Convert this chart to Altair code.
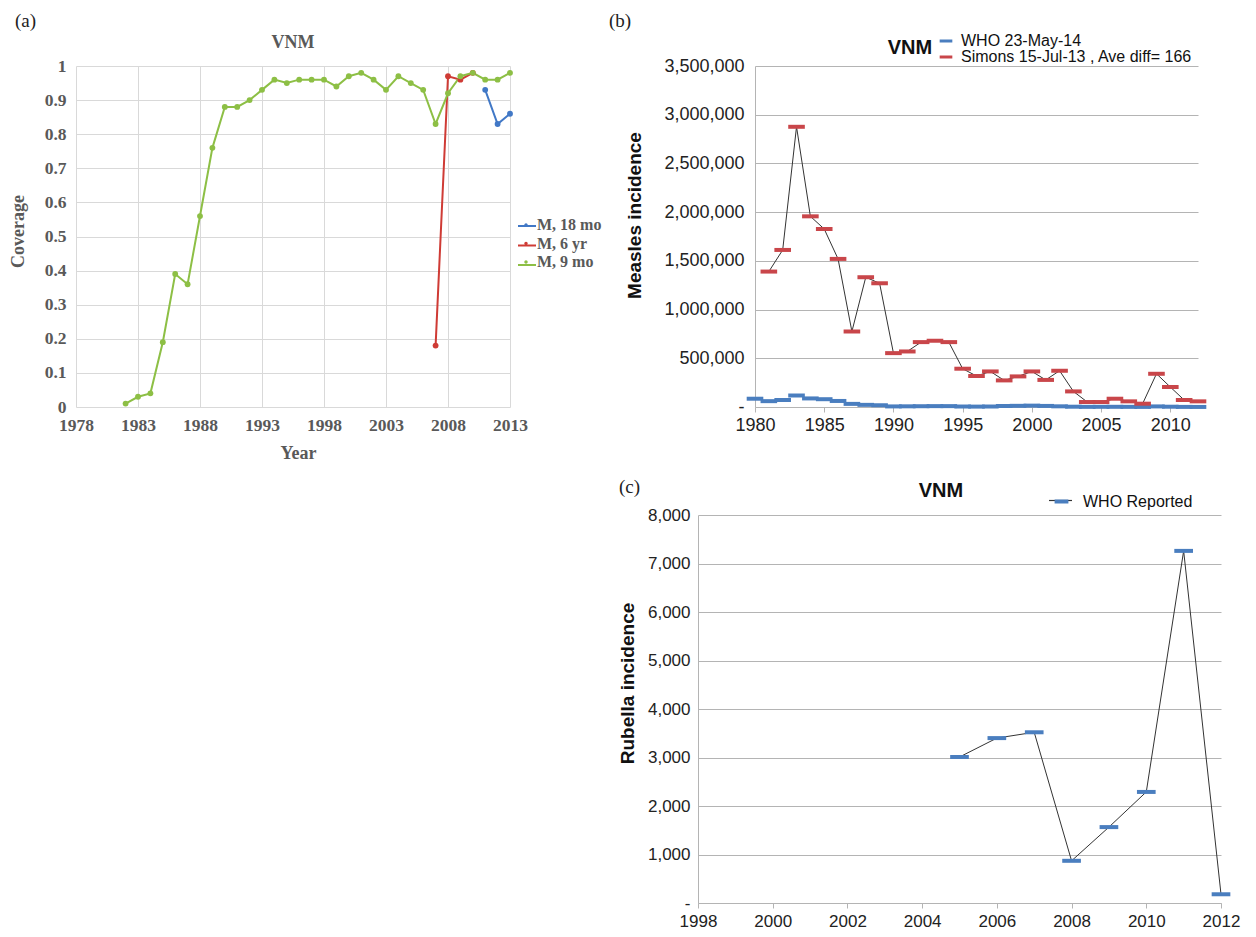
import altair as alt
import pandas as pd

SERIF = "Liberation Serif"
SANS = "Liberation Sans"

# ---------------- (a) measles vaccination coverage ----------------
cov_series = ["M, 18 mo", "M, 6 yr", "M, 9 mo"]
cov_colors = ["#4178C6", "#CF3B35", "#8DBF45"]

cov_years_18mo = [2011, 2012, 2013]
cov_18mo = [0.93, 0.83, 0.86]

cov_years_6yr = [2007, 2008, 2009, 2010]
cov_6yr = [0.18, 0.97, 0.96, 0.98]

cov_years_9mo = list(range(1982, 2014))
cov_9mo = [0.01, 0.03, 0.04, 0.19, 0.39, 0.36, 0.56, 0.76, 0.88, 0.88,
           0.90, 0.93, 0.96, 0.95, 0.96, 0.96, 0.96, 0.94, 0.97, 0.98,
           0.96, 0.93, 0.97, 0.95, 0.93, 0.83, 0.92, 0.97, 0.98, 0.96,
           0.96, 0.98]

cov_year_ticks = [1978, 1983, 1988, 1993, 1998, 2003, 2008, 2013]
cov_ticks = [0, 0.1, 0.2, 0.3, 0.4, 0.5, 0.6, 0.7, 0.8, 0.9, 1]

# ---------------- (b) measles incidence ----------------
measles_series = ["WHO 23-May-14", "Simons 15-Jul-13 , Ave diff= 166"]
measles_colors = ["#4A7EBF", "#C9464A"]

who_years = list(range(1980, 2013))
who_measles = [85000, 60000, 72000, 118000, 88000, 80000, 62000, 32000, 22000, 18000,
               6000, 7000, 8000, 9000, 9000, 5000, 4000, 5000, 10000, 12000,
               14000, 11000, 7000, 3000, 1500, 2000, 2000, 1500, 1000, 6000,
               3000, 1000, 600]

simons_years = list(range(1981, 2013))
simons_measles = [1390000, 1612000, 2876000, 1957000, 1827000, 1520000, 775000, 1332000,
                  1270000, 553000, 570000, 666000, 680000, 666000, 393000, 318000,
                  365000, 273000, 314000, 365000, 278000, 372000, 160000, 51000,
                  51000, 85000, 58000, 34000, 341000, 205000, 72000, 58000]

measles_year_ticks = [1980, 1985, 1990, 1995, 2000, 2005, 2010]
measles_ticks = [0, 500000, 1000000, 1500000, 2000000, 2500000, 3000000, 3500000]

# ---------------- (c) rubella incidence ----------------
rubella_series = ["WHO Reported"]
rubella_color = ["#4A7EBF"]
rubella_years = [2005, 2006, 2007, 2008, 2009, 2010, 2011, 2012]
rubella_cases = [3010, 3400, 3520, 870, 1565, 2290, 7260, 180]

rubella_year_ticks = [1998, 2000, 2002, 2004, 2006, 2008, 2010, 2012]
rubella_ticks = [0, 1000, 2000, 3000, 4000, 5000, 6000, 7000, 8000]

DASH_LABEL = "datum.value == 0 ? '-' : format(datum.value, ',')"


def note(text, x, y, **style):
    """A single piece of annotation text placed relative to the plot area."""
    return (
        alt.Chart(pd.DataFrame({"label": [text]}))
        .mark_text(**style)
        .encode(text="label:N", x=alt.value(x), y=alt.value(y))
    )


# ---------------- panel (a) ----------------
frames = []
for name, yrs, vals in [(cov_series[0], cov_years_18mo, cov_18mo),
                        (cov_series[1], cov_years_6yr, cov_6yr),
                        (cov_series[2], cov_years_9mo, cov_9mo)]:
    frames.append(pd.DataFrame({"year": yrs, "coverage": vals, "series": name,
                                "series_line": name}))
df_a = pd.concat(frames, ignore_index=True)

A_W, A_H = 434, 341
grey_a = "#595959"

x_a = alt.X(
    "year:Q",
    scale=alt.Scale(domain=[1978, 2013], nice=False, zero=False),
    axis=alt.Axis(values=cov_year_ticks, format="d", title="Year", grid=True,
                  gridColor="#D9D9D9", domain=False, ticks=False, labelPadding=9,
                  labelFlush=False, labelFont=SERIF, labelFontSize=17.5,
                  labelFontWeight="bold", labelColor=grey_a, titleFont=SERIF,
                  titleFontSize=18, titleFontWeight="bold", titleColor=grey_a,
                  titleX=222, titleY=46, titleBaseline="middle", titleAlign="center"),
)
y_a = alt.Y(
    "coverage:Q",
    scale=alt.Scale(domain=[0, 1], nice=False),
    axis=alt.Axis(values=cov_ticks, labelExpr="format(datum.value, '~g')",
                  title="Coverage", grid=True, gridColor="#D9D9D9", domain=False,
                  ticks=False, labelPadding=10, labelFlush=False, labelFont=SERIF,
                  labelFontSize=17.5, labelFontWeight="bold", labelColor=grey_a,
                  titleFont=SERIF, titleFontSize=18, titleFontWeight="bold",
                  titleColor=grey_a, titleAngle=270, titleAlign="center",
                  titleBaseline="middle", titleX=-58, titleY=165),
)

legend_common_a = dict(orient="none", legendX=441, legendY=150, title=None, padding=0,
                       symbolSize=324, labelFont=SERIF, labelFontSize=16,
                       labelFontWeight="bold", labelColor=grey_a, rowPadding=1.5,
                       labelOffset=2)

# line part of the legend keys (no labels of its own)
lines_a = alt.Chart(df_a).mark_line(strokeWidth=2).encode(
    x=x_a, y=y_a, detail="series:N",
    stroke=alt.Stroke("series_line:N", scale=alt.Scale(range=cov_colors),
                      legend=alt.Legend(symbolType="M-1,0H1", symbolStrokeWidth=2,
                                        labelExpr="''", **legend_common_a)),
)
# marker part of the legend keys, with the labels
points_a = alt.Chart(df_a).mark_point(filled=True, size=34, opacity=1).encode(
    x=x_a, y=y_a,
    fill=alt.Fill("series:N", scale=alt.Scale(domain=cov_series, range=cov_colors),
                  legend=alt.Legend(symbolType="M0.19,0A0.19,0.19,0,1,1,-0.19,0A0.19,0.19,0,1,1,0.19,0Z",
                                    symbolStrokeWidth=0, symbolOpacity=1,
                                    **legend_common_a)),
)

panel_a = alt.layer(
    lines_a, points_a,
    note("VNM", A_W / 2, -23, font=SERIF, fontSize=18, fontWeight="bold",
         color=grey_a, align="center", baseline="middle"),
    note("(a)", -61, -45, font=SERIF, fontSize=19, color="#222",
         align="left", baseline="middle"),
).properties(width=A_W, height=A_H)

# ---------------- panel (b) ----------------
df_b = pd.concat([
    pd.DataFrame({"year": who_years, "cases": who_measles, "series": measles_series[0]}),
    pd.DataFrame({"year": simons_years, "cases": simons_measles, "series": measles_series[1]}),
], ignore_index=True)

B_W, B_H = 443, 341
axis_grey = "#B4B4B4"
sans_axis = dict(labelFont=SANS, labelColor="#222", titleFont=SANS,
                 titleFontWeight="bold", titleColor="#111", labelFlush=False)

x_b = alt.X(
    "x0:Q",
    scale=alt.Scale(domain=[1980, 2012], nice=False, zero=False),
    axis=alt.Axis(values=measles_year_ticks, format="d", title=None, grid=False,
                  domainColor=axis_grey, tickColor=axis_grey, tickSize=5,
                  labelPadding=4, labelFontSize=18, **sans_axis),
)
y_b = alt.Y(
    "cases:Q",
    scale=alt.Scale(domain=[0, 3500000], nice=False),
    axis=alt.Axis(values=measles_ticks, labelExpr=DASH_LABEL, title="Measles incidence",
                  grid=True, gridColor=axis_grey, domainColor=axis_grey, ticks=False,
                  labelPadding=11, labelFontSize=18, titleFontSize=19,
                  titleAngle=270, titleAlign="center", titleBaseline="middle",
                  titleX=-121, titleY=149, **sans_axis),
)

link_b = alt.Chart(df_b).transform_filter(
    alt.datum.series == measles_series[1]
).mark_line(color="#333", strokeWidth=1).encode(
    x=alt.X("year:Q", scale=alt.Scale(domain=[1980, 2012], nice=False, zero=False)),
    y=alt.Y("cases:Q"),
)
bars_b = alt.Chart(df_b).transform_calculate(
    x0="datum.year - 0.6", x1="datum.year + 0.6"
).mark_rule(strokeWidth=4).encode(
    x=x_b, x2="x1:Q", y=y_b,
    color=alt.Color("series:N", scale=alt.Scale(domain=measles_series, range=measles_colors),
                    legend=alt.Legend(orient="none", legendX=183, legendY=-33, title=None,
                                      padding=0, symbolType="stroke", symbolSize=160,
                                      symbolStrokeWidth=3, labelFont=SANS,
                                      labelFontSize=16, labelColor="#111",
                                      labelLimit=400, labelOffset=7, rowPadding=0)),
)

panel_b = alt.layer(
    link_b, bars_b,
    note("VNM", 155, -18, font=SANS, fontSize=20, fontWeight="bold", color="#111",
         align="center", baseline="middle"),
    note("(b)", -146, -45, font=SERIF, fontSize=19, color="#222",
         align="left", baseline="middle"),
).properties(width=B_W, height=B_H)

# ---------------- panel (c) ----------------
df_c = pd.DataFrame({"year": rubella_years, "cases": rubella_cases,
                     "series": rubella_series[0], "series_line": rubella_series[0]})

C_W, C_H = 523, 388

x_c = alt.X(
    "x0:Q",
    scale=alt.Scale(domain=[1998, 2012], nice=False, zero=False),
    axis=alt.Axis(values=rubella_year_ticks, format="d", title=None, grid=False,
                  domainColor=axis_grey, tickColor=axis_grey, tickSize=5,
                  labelPadding=5, labelFontSize=17, **sans_axis),
)
y_c = alt.Y(
    "cases:Q",
    scale=alt.Scale(domain=[0, 8000], nice=False),
    axis=alt.Axis(values=rubella_ticks, labelExpr=DASH_LABEL, title="Rubella incidence",
                  grid=True, gridColor=axis_grey, domainColor=axis_grey, ticks=False,
                  labelPadding=8, labelFontSize=17, titleFontSize=19,
                  titleAngle=270, titleAlign="center", titleBaseline="middle",
                  titleX=-71, titleY=168, **sans_axis),
)

legend_common_c = dict(orient="none", legendX=350, legendY=-27, title=None, padding=0,
                       symbolSize=529, labelFont=SANS, labelFontSize=16,
                       labelColor="#111", labelOffset=8, rowPadding=0)

link_c = alt.Chart(df_c).mark_line(strokeWidth=1).encode(
    x=alt.X("year:Q", scale=alt.Scale(domain=[1998, 2012], nice=False, zero=False)),
    y=alt.Y("cases:Q"),
    stroke=alt.Stroke("series_line:N", scale=alt.Scale(range=["#333"]),
                      legend=alt.Legend(symbolType="M-1,0H1", symbolStrokeWidth=1.2,
                                        labelExpr="''", **legend_common_c)),
)
bars_c = alt.Chart(df_c).transform_calculate(
    x0="datum.year - 0.25", x1="datum.year + 0.25"
).mark_rule(strokeWidth=4).encode(
    x=x_c, x2="x1:Q", y=y_c,
    color=alt.Color("series:N", scale=alt.Scale(domain=rubella_series, range=rubella_color),
                    legend=alt.Legend(symbolType="M-0.6,0H0.6", symbolStrokeWidth=4,
                                      **legend_common_c)),
)

panel_c = alt.layer(
    link_c, bars_c,
    note("VNM", 243, -24, font=SANS, fontSize=20, fontWeight="bold", color="#111",
         align="center", baseline="middle"),
    note("(c)", -79, -28, font=SERIF, fontSize=19, color="#222",
         align="left", baseline="middle"),
    # transparent copy that fixes how far this panel reaches to the left
    note("(c)", -89, -28, font=SERIF, fontSize=19, opacity=0,
         align="left", baseline="middle"),
).properties(width=C_W, height=C_H)

# empty first cell of the second row
spacer = alt.Chart(pd.DataFrame({"v": [0]})).mark_point(opacity=0, size=1).encode(
    x=alt.value(0), y=alt.value(0)
).properties(width=1, height=1)

chart = alt.concat(
    panel_a, panel_b, spacer, panel_c,
    columns=2, align="none",
    spacing={"row": 14, "column": 5},
).resolve_scale(
    color="independent", fill="independent", stroke="independent"
).properties(
    padding={"left": 8, "top": 11, "right": 5, "bottom": 5},
    background="white",
).configure_view(stroke="transparent")

chart.save("out.html", embed_options={"renderer": "svg", "actions": False})
